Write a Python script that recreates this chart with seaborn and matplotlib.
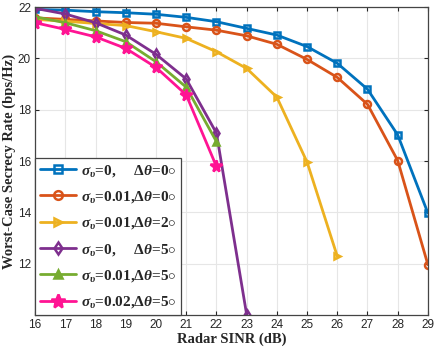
import numpy as np
import pandas as pd
import matplotlib
matplotlib.use("Agg")
import matplotlib.pyplot as plt
import seaborn as sns

x_full = [16, 17, 18, 19, 20, 21, 22, 23, 24, 25, 26, 27, 28, 29]
blue = [21.91, 21.88, 21.82, 21.78, 21.72, 21.60, 21.43, 21.17, 20.91, 20.46, 19.81, 18.80, 17.02, 13.97]
orange = [21.58, 21.52, 21.46, 21.40, 21.37, 21.23, 21.10, 20.88, 20.55, 19.96, 19.26, 18.21, 16.02, 11.96]
x_yel = [16, 17, 18, 19, 20, 21, 22, 23, 24, 25, 26]
yellow = [21.52, 21.45, 21.36, 21.28, 21.04, 20.78, 20.26, 19.61, 18.49, 15.96, 12.29]
x_pur = [16, 17, 18, 19, 20, 21, 22, 23]
purple = [21.95, 21.73, 21.39, 20.91, 20.16, 19.20, 17.09, 10.02]
x_short = [16, 17, 18, 19, 20, 21, 22]
green = [21.62, 21.39, 21.08, 20.65, 19.87, 18.88, 16.76]
pink = [21.39, 21.13, 20.84, 20.39, 19.65, 18.58, 15.79]

labels = [
    r'$\sigma_\upsilon$=0,     $\Delta\theta$=0$\circ$',
    r'$\sigma_\upsilon$=0.01,$\Delta\theta$=0$\circ$',
    r'$\sigma_\upsilon$=0.01,$\Delta\theta$=2$\circ$',
    r'$\sigma_\upsilon$=0,     $\Delta\theta$=5$\circ$',
    r'$\sigma_\upsilon$=0.01,$\Delta\theta$=5$\circ$',
    r'$\sigma_\upsilon$=0.02,$\Delta\theta$=5$\circ$',
]
colors = ['#0072BD', '#D95319', '#EDB120', '#7E2F8E', '#77AC30', '#FF1493']
markers = ['s', 'o', '>', 'd', '^', '*']

sns.set_style('whitegrid')
plt.rcParams['font.family'] = ['Liberation Sans', 'DejaVu Sans']
plt.rcParams['mathtext.fontset'] = 'custom'
plt.rcParams['mathtext.it'] = 'Liberation Serif:bold:italic'
plt.rcParams['mathtext.rm'] = 'Liberation Serif:bold'
plt.rcParams['mathtext.bf'] = 'Liberation Serif:bold'

fig = plt.figure(figsize=(4.34, 3.54), dpi=100)
ax = fig.add_axes([0.081, 0.110, 0.905, 0.870])

series = [(x_full, blue), (x_full, orange), (x_yel, yellow), (x_pur, purple), (x_short, green), (x_short, pink)]
for i, ((xs, ys), lab, c, m) in enumerate(zip(series, labels, colors, markers)):
    df = pd.DataFrame({'x': xs, 'y': ys})
    ms = 8.5 if m == '*' else 5
    mfc = c if m in ('*', '^') else 'none'
    sns.lineplot(data=df, x='x', y='y', ax=ax, color=c, marker=m, markersize=ms,
                 markerfacecolor=mfc, markeredgecolor=c, markeredgewidth=1.8,
                 linewidth=2, label=lab)

ax.set_xlim(16, 29)
ax.set_ylim(10, 22)
ax.set_xticks(range(16, 30))
ax.set_yticks([12, 14, 16, 18, 20, 22])
ax.tick_params(axis='both', labelsize=8.5, colors='#262626', direction='in', length=3,
               top=True, right=True, bottom=True, left=True, pad=3)
ax.grid(True, color='#e6e6e6', linewidth=0.8)
for s in ax.spines.values():
    s.set_color('#444444')
    s.set_linewidth(0.9)
ax.set_xlabel('Radar SINR (dB)', fontfamily='Liberation Serif', fontweight='bold', fontsize=10.5, labelpad=1)
ax.set_ylabel('Worst-Case Secrecy Rate (bps/Hz)', fontfamily='Liberation Serif', fontweight='bold', fontsize=10.5, labelpad=1)

leg = ax.legend(loc='lower left', bbox_to_anchor=(0, 0), borderaxespad=0, fancybox=False,
                frameon=True, edgecolor='#444444', framealpha=1,
                prop={'family': 'Liberation Serif', 'weight': 'bold', 'size': 11},
                handlelength=2.4, handletextpad=0.3, labelspacing=0.68, borderpad=0.3,
                markerscale=1.25)
leg.get_frame().set_linewidth(0.9)

fig.savefig('out.png', dpi=100)
